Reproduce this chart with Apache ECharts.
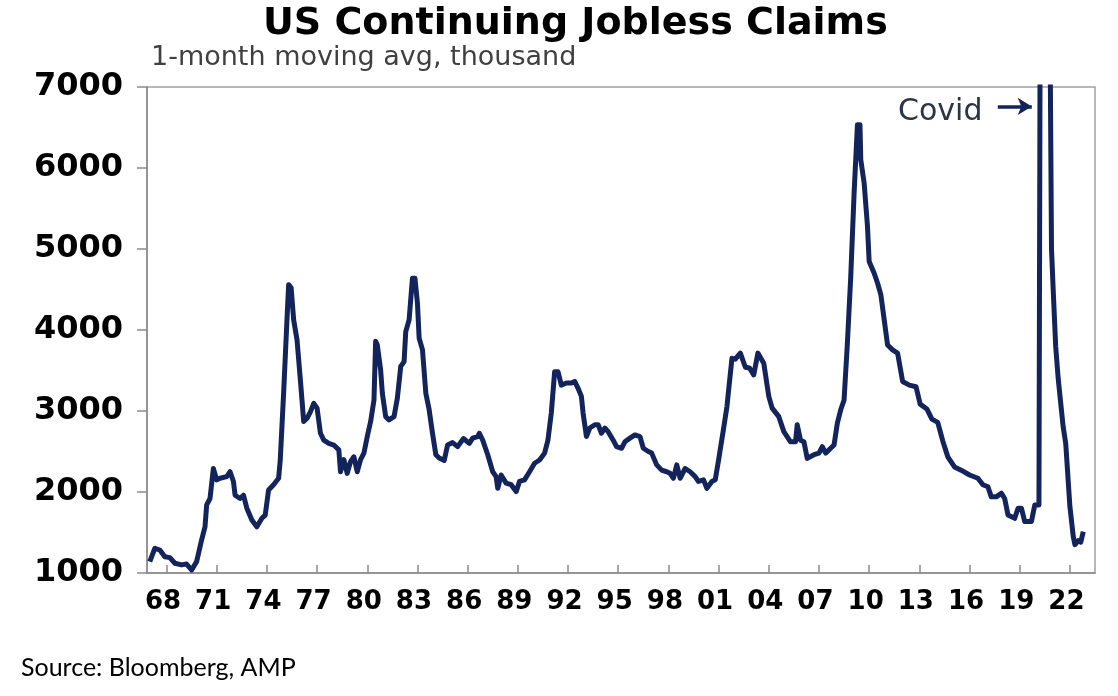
<!DOCTYPE html>
<html>
<head>
<meta charset="utf-8">
<script src="https://cdn.jsdelivr.net/npm/echarts@6/dist/echarts.min.js"></script>
<style>
html,body{margin:0;padding:0;background:#fff;}
#chart{width:1118px;height:696px;}
</style>
</head>
<body>
<div id="chart"></div>
<script>
// Decimal year of each reading
const years = [
1967.0,1967.3,1967.6,1967.9,1968.2,1968.5,1968.9,1969.2,1969.5,1969.8,
1970.1,1970.3,1970.4,1970.6,1970.8,1971.0,1971.2,1971.6,1971.8,1972.0,
1972.1,1972.4,1972.6,1972.8,1973.1,1973.4,1973.7,1973.9,1974.1,1974.4,
1974.7,1974.8,1975.0,1975.2,1975.3,1975.45,1975.6,1975.8,1976.0,1976.2,
1976.4,1976.6,1976.8,1977.0,1977.2,1977.4,1977.7,1978.0,1978.3,1978.4,
1978.6,1978.8,1979.0,1979.2,1979.4,1979.6,1979.8,1980.0,1980.2,1980.4,
1980.5,1980.6,1980.8,1980.9,1981.1,1981.3,1981.6,1981.8,1982.0,1982.2,
1982.3,1982.5,1982.7,1982.85,1983.0,1983.1,1983.3,1983.5,1983.7,1983.9,
1984.1,1984.3,1984.6,1984.8,1985.1,1985.4,1985.75,1986.1,1986.3,1986.6,
1986.7,1986.9,1987.2,1987.5,1987.7,1987.8,1988.0,1988.3,1988.6,1988.9,
1989.1,1989.4,1989.7,1990.0,1990.3,1990.6,1990.8,1991.0,1991.2,1991.4,
1991.6,1991.9,1992.2,1992.4,1992.6,1992.8,1992.9,1993.1,1993.3,1993.6,
1993.8,1994.0,1994.2,1994.4,1994.7,1994.9,1995.2,1995.4,1995.7,1996.0,
1996.3,1996.5,1996.8,1997.0,1997.3,1997.6,1997.9,1998.1,1998.3,1998.5,
1998.7,1999.0,1999.3,1999.6,1999.8,2000.1,2000.3,2000.6,2000.8,2001.0,
2001.3,2001.5,2001.6,2001.8,2002.0,2002.3,2002.6,2002.85,2003.1,2003.35,
2003.7,2004.0,2004.2,2004.6,2004.9,2005.3,2005.6,2005.7,2005.9,2006.1,
2006.3,2006.7,2007.0,2007.2,2007.4,2007.7,2007.9,2008.1,2008.3,2008.5,
2008.7,2008.9,2009.1,2009.3,2009.45,2009.5,2009.7,2009.9,2010.0,2010.3,
2010.5,2010.7,2010.9,2011.1,2011.4,2011.7,2012.0,2012.4,2012.8,2013.05,
2013.45,2013.75,2014.1,2014.4,2014.7,2015.1,2015.5,2016.0,2016.5,2016.8,
2017.1,2017.3,2017.6,2017.9,2018.1,2018.3,2018.7,2018.9,2019.1,2019.3,
2019.7,2019.9,2020.15,2020.33,2020.42,2020.5,2020.6,2020.7,2020.8,2020.9,
2021.0,2021.15,2021.3,2021.45,2021.6,2021.75,2022.0,2022.2,2022.3,2022.5,
2022.65,2022.8
];
// Continuing claims, thousand (1-month moving avg)
const claims = [
1140,1305,1284,1200,1190,1120,1100,1110,1037,1140,
1410,1570,1840,1920,2290,2150,2170,2190,2250,2130,
1960,1920,1960,1800,1655,1570,1675,1715,2025,2090,
2170,2400,3220,4125,4560,4520,4125,3880,3385,2870,
2910,2990,3095,3035,2725,2640,2600,2580,2520,2250,
2400,2230,2375,2435,2250,2400,2480,2685,2870,3135,
3860,3815,3505,3220,2930,2890,2930,3160,3550,3610,
3980,4125,4640,4640,4330,3900,3755,3220,3015,2725,
2460,2420,2390,2580,2610,2560,2660,2600,2665,2685,
2725,2640,2460,2250,2190,2045,2210,2110,2090,2005,
2130,2150,2250,2355,2395,2480,2640,2975,3485,3485,
3320,3345,3345,3365,3280,3180,2975,2685,2790,2830,
2830,2725,2790,2745,2640,2560,2540,2620,2665,2705,
2685,2540,2500,2480,2335,2270,2250,2230,2170,2335,
2170,2290,2250,2190,2130,2150,2045,2130,2150,2395,
2785,3055,3260,3650,3640,3715,3540,3530,3445,3715,
3590,3180,3035,2930,2745,2620,2620,2830,2640,2620,
2415,2460,2480,2560,2480,2540,2580,2850,3015,3135,
3840,4660,5690,6535,6535,6100,5815,5280,4845,4700,
4580,4435,4125,3815,3755,3715,3365,3320,3300,3085,
3025,2900,2860,2630,2435,2310,2270,2210,2170,2090,
2065,1940,1940,1985,1920,1715,1675,1800,1800,1635,
1635,1840,1840,17000,22000,18000,16000,12500,8000,5000,
4500,3800,3400,3100,2800,2600,1820,1450,1350,1400,
1380,1510
];
// Years that carry a tick and a label on the x axis
const tickYears = [1968,1971,1974,1977,1980,1983,1986,1989,1992,1995,1998,2001,2004,2007,2010,2013,2016,2019,2022];
const yMin = 1000, yMax = 7000, yStep = 1000;
// Annotation anchored in data space
const covidArrow = { from: [2017.69, 6760], to: [2019.72, 6760] };
const covidLabel = { text: 'Covid', at: [2014.25, 6690] };

// Month grid used only for ticks/labels, Nov 1966 .. Jul 2023
const startMonth = 1966 * 12 + 10, nMonths = 680;
const months = [];
for (let i = 0; i <= nMonths; i++) {
  const t = startMonth + i, y = Math.floor(t / 12), m = t % 12 + 1;
  months.push(y + '-' + (m < 10 ? '0' : '') + m);
}
const xMin = startMonth / 12, xMax = (startMonth + nMonths) / 12;
const isTick = (idx, v) => { const p = v.split('-'); return p[1] === '01' && tickYears.indexOf(+p[0]) >= 0; };

const seriesData = years.map((y, i) => [y, claims[i]]);
const navy = '#13235b';

const chart = echarts.init(document.getElementById('chart'));
chart.setOption({
  animation: false,
  backgroundColor: '#fff',
  title: [
    { text: 'US Continuing Jobless Claims', left: 258, top: 0,
      textStyle: { fontFamily: 'DejaVu Sans', fontWeight: 'bold', fontSize: 38, color: '#000' } },
    { text: '1-month moving avg, thousand', left: 146, top: 39,
      textStyle: { fontFamily: 'DejaVu Sans', fontWeight: 'normal', fontSize: 27, color: '#404040' } },
    { text: 'Source: Bloomberg, AMP', left: 16, top: 650,
      textStyle: { fontFamily: 'Lato', fontWeight: 'normal', fontSize: 25, color: '#000' } }
  ],
  grid: { left: 147, right: 23, top: 87, bottom: 123, show: true, borderColor: '#a0a0a0', borderWidth: 1.5, backgroundColor: 'transparent' },
  xAxis: [
    { type: 'value', min: xMin, max: xMax, show: false, position: 'bottom' },
    { type: 'category', data: months, boundaryGap: false, position: 'bottom',
      axisLine: { show: true, lineStyle: { color: '#8a8a8a', width: 1.5 } },
      axisTick: { show: true, inside: true, length: 8, interval: isTick, lineStyle: { color: '#8a8a8a', width: 1.5 } },
      axisLabel: { show: true, interval: isTick, formatter: v => v.slice(2, 4), margin: 16, padding: [0, 7, 0, 0],
        fontFamily: 'DejaVu Sans', fontWeight: 'bold', fontSize: 26, color: '#000' },
      splitLine: { show: false } }
  ],
  yAxis: {
    type: 'value', min: yMin, max: yMax, interval: yStep,
    axisLine: { show: true, lineStyle: { color: '#8a8a8a', width: 1.5 } },
    axisTick: { show: true, inside: false, length: 10, lineStyle: { color: '#8a8a8a', width: 1.5 } },
    axisLabel: { margin: 24, formatter: v => String(v), fontFamily: 'DejaVu Sans', fontWeight: 'bold', fontSize: 32, color: '#000' },
    splitLine: { show: false }
  },
  series: [{
    type: 'line', xAxisIndex: 0, yAxisIndex: 0, data: seriesData,
    showSymbol: false, clip: true,
    lineStyle: { color: navy, width: 5, join: 'round' },
    markLine: {
      silent: true, animation: false,
      symbol: ['none', 'arrow'], symbolSize: [13, 14],
      lineStyle: { color: navy, width: 3.5, type: 'solid' },
      label: { show: false },
      data: [[{ coord: covidArrow.from }, { coord: covidArrow.to }]]
    },
    markPoint: {
      silent: true, animation: false,
      symbol: 'circle', symbolSize: 1, itemStyle: { color: 'rgba(0,0,0,0)' },
      label: { show: true, position: 'inside', formatter: covidLabel.text,
        fontFamily: 'DejaVu Sans', fontSize: 30, color: '#2b3548' },
      data: [{ coord: covidLabel.at }]
    }
  }]
});
</script>
</body>
</html>
